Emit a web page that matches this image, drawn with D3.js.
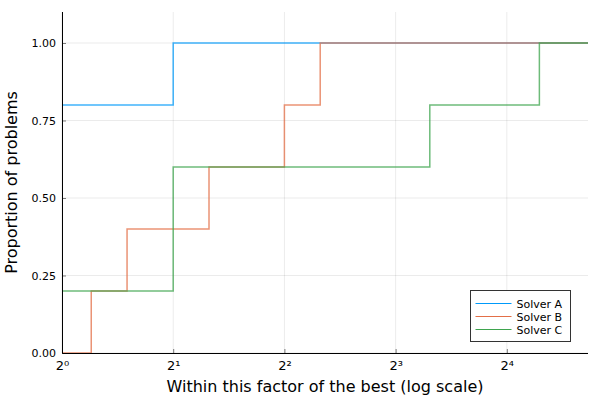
<!DOCTYPE html>
<html>
<head>
<meta charset="utf-8">
<script src="https://cdn.jsdelivr.net/npm/d3@7"></script>
<style>
  body { margin: 0; background: #fff; }
  svg { font-family: "DejaVu Sans", sans-serif; }
</style>
</head>
<body>
<script>
// performance ratios per solver (5 problems each)
var solverNames = ['Solver A', 'Solver B', 'Solver C'];
var solverColors = ['#009afa', '#e36f47', '#3ea44e'];
var ratiosA = [1, 1, 1, 1, 2];
var ratiosB = [1.2, 1.5, 2.5, 4, 5];
var ratiosC = [1, 2, 2, 9.9, 19.6];
var xTickExps = [0, 1, 2, 3, 4];
var yTicks = [0, 0.25, 0.5, 0.75, 1.0];
var xMaxExp = 4.73;

var width = 600, height = 400;
var margin = { top: 12, right: 12, bottom: 47, left: 62 };
var w = width - margin.left - margin.right;
var h = height - margin.top - margin.bottom;

var svg = d3.select('body').append('svg')
  .attr('width', width).attr('height', height);
var g = svg.append('g')
  .attr('transform', 'translate(' + margin.left + ',' + margin.top + ')');

var xScale = d3.scaleLog().base(2).domain([1, Math.pow(2, xMaxExp)]).range([0, w]);
var yScale = d3.scaleLinear().domain([0, 1.1]).range([h, 0]);

// grid
g.append('g').selectAll('line').data(xTickExps).join('line')
  .attr('x1', function(d) { return xScale(Math.pow(2, d)); })
  .attr('x2', function(d) { return xScale(Math.pow(2, d)); })
  .attr('y1', 0).attr('y2', h)
  .attr('stroke', '#000').attr('stroke-opacity', 0.08).attr('stroke-width', 1);
g.append('g').selectAll('line').data(yTicks).join('line')
  .attr('y1', function(d) { return yScale(d); })
  .attr('y2', function(d) { return yScale(d); })
  .attr('x1', 0).attr('x2', w)
  .attr('stroke', '#000').attr('stroke-opacity', 0.08).attr('stroke-width', 1);

// step lines built from the ratios
function profile(r) {
  var s = r.slice().sort(function(a, b) { return a - b; });
  var n = s.length, pts = [];
  if (s[0] > 1) pts.push([1, 0]);
  s.forEach(function(v, i) {
    if (i < n - 1 && s[i + 1] === v) return;
    pts.push([v, (i + 1) / n]);
  });
  pts.push([Math.pow(2, xMaxExp), 1]);
  return pts;
}
var series = [ratiosA, ratiosB, ratiosC].map(profile);

var line = d3.line()
  .x(function(d) { return xScale(d[0]); })
  .y(function(d) { return yScale(d[1]); })
  .curve(d3.curveStepAfter);

series.forEach(function(pts, i) {
  g.append('path').datum(pts)
    .attr('d', line)
    .attr('fill', 'none')
    .attr('stroke', solverColors[i])
    .attr('stroke-opacity', 0.75)
    .attr('stroke-width', 1.5);
});

// axes
var xAxis = d3.axisBottom(xScale)
  .tickValues(xTickExps.map(function(e) { return Math.pow(2, e); }))
  .tickSize(-4).tickPadding(8)
  .tickFormat(function(d) {
    var sup = ['⁰', '¹', '²', '³', '⁴'];
    return '2' + sup[Math.round(Math.log2(d))];
  });
var ax = g.append('g').attr('transform', 'translate(0,' + h + ')').call(xAxis);
ax.select('.domain').attr('stroke', '#000').attr('d', 'M0.5,0.5H' + w);
ax.selectAll('.tick line').attr('stroke', '#000').attr('stroke-opacity', 0.5);
ax.selectAll('text').attr('font-size', 13).attr('fill', '#000')
  .attr('font-family', '"DejaVu Sans", sans-serif');

var yAxis = d3.axisLeft(yScale)
  .tickValues(yTicks).tickSize(-4).tickPadding(6)
  .tickFormat(d3.format('.2f'));
var ay = g.append('g').call(yAxis);
ay.select('.domain').attr('stroke', '#000').attr('d', 'M0.5,0V' + (h + 0.5));
ay.selectAll('.tick line').attr('stroke', '#000').attr('stroke-opacity', 0.5);
ay.selectAll('text').attr('font-size', 11).attr('fill', '#000')
  .attr('font-family', '"DejaVu Sans", sans-serif');

// axis titles
svg.append('text')
  .attr('x', margin.left + w / 2).attr('y', 392)
  .attr('text-anchor', 'middle').attr('font-size', 16)
  .text('Within this factor of the best (log scale)');
svg.append('text')
  .attr('transform', 'translate(17,' + (margin.top + h / 2) + ') rotate(-90)')
  .attr('text-anchor', 'middle').attr('font-size', 16)
  .text('Proportion of problems');

// legend
var lg = svg.append('g').attr('transform', 'translate(470.5,290.5)');
lg.append('rect').attr('width', 100).attr('height', 51)
  .attr('fill', '#fff').attr('stroke', '#000').attr('stroke-opacity', 0.8);
solverNames.forEach(function(name, i) {
  var yy = 13 + i * 13;
  lg.append('line').attr('x1', 5).attr('x2', 41).attr('y1', yy).attr('y2', yy)
    .attr('stroke', solverColors[i]).attr('stroke-width', 1);
  lg.append('text').attr('x', 46).attr('y', yy + 4)
    .attr('font-size', 11).text(name);
});
</script>
</body>
</html>
